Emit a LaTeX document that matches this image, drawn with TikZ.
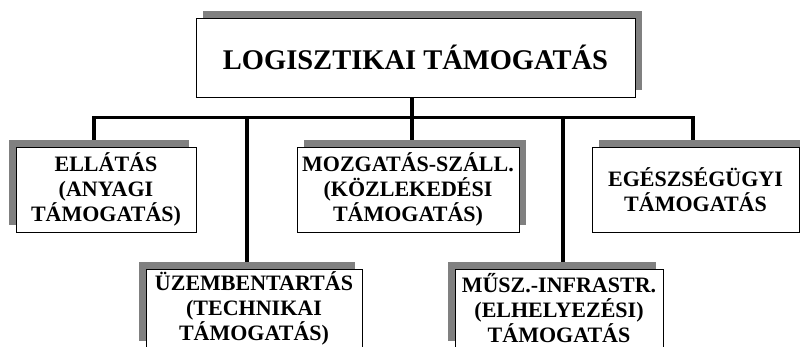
\documentclass[tikz,border=0pt]{standalone}
\usepackage{fontspec}
\setmainfont{Liberation Serif}
\usetikzlibrary{shadows}
\definecolor{shadowgray}{RGB}{128,128,128}
\pgfdeclarelayer{bg}
\pgfsetlayers{bg,main}
\begin{document}
\begin{tikzpicture}[x=1pt,y=-1pt,
  box/.style={draw=black, line width=1pt, fill=white, rectangle, inner sep=0pt, align=center,
    font=\fontsize{22}{25}\selectfont\bfseries},
  shadowL/.style={drop shadow={shadow xshift=-7pt, shadow yshift=7pt, fill=shadowgray, opacity=1}},
  shadowR/.style={drop shadow={shadow xshift=7pt, shadow yshift=7pt, fill=shadowgray, opacity=1}},
  conn/.style={draw=black, line width=3.5pt, line join=miter}]
\useasboundingbox (0,0) rectangle (800,346);
\clip (0,0) rectangle (800,346);

\node[box, shadowR, minimum width=439pt, minimum height=79pt,
  font=\fontsize{28.5}{32}\selectfont\bfseries] (top) at (415.5,57.5) {LOGISZTIKAI TÁMOGATÁS};

\node[box, shadowL, minimum width=180pt, minimum height=85pt] (ell) at (106,189.5)
  {ELLÁTÁS\\(ANYAGI\\TÁMOGATÁS)};
\node[box, shadowR, minimum width=222pt, minimum height=85pt] (moz) at (408,189.5)
  {MOZGATÁS-SZÁLL.\\(KÖZLEKEDÉSI\\TÁMOGATÁS)};
\node[box, shadowR, minimum width=207pt, minimum height=85pt] (egs) at (695.5,189.5)
  {EGÉSZSÉGÜGYI\\TÁMOGATÁS};
\node[box, shadowL, minimum width=216pt, minimum height=79pt] (uzem) at (254,308.5)
  {ÜZEMBENTARTÁS\\(TECHNIKAI\\TÁMOGATÁS)};
\node[box, shadowL, minimum width=208pt, minimum height=79pt] (musz) at (559,308.5)
  {MŰSZ.-INFRASTR.\\(ELHELYEZÉSI)\\TÁMOGATÁS};

\coordinate (bl) at (94,117.5);
\coordinate (br) at (693,117.5);
\coordinate (j1) at (412,117.5);
\coordinate (j2) at (247,117.5);
\coordinate (j3) at (563,117.5);

\begin{pgfonlayer}{bg}
\fill[white] (0,0) rectangle (800,346);
\draw[conn] (bl |- ell.north) -- (bl) -- (br) -- (br |- egs.north);
\draw[conn] (top.south -| j1) -- (moz.north -| j1);
\draw[conn] (j2) -- (j2 |- uzem.north);
\draw[conn] (j3) -- (j3 |- musz.north);
\end{pgfonlayer}
\end{tikzpicture}
\end{document}
